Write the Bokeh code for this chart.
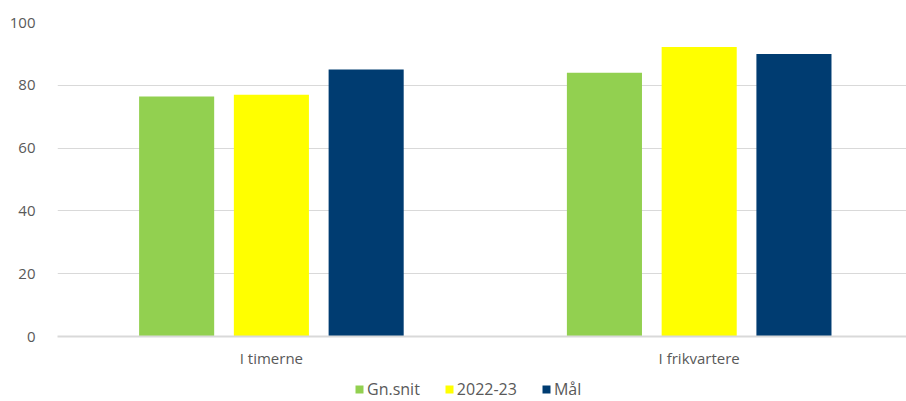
from bokeh.plotting import figure
from bokeh.layouts import column
from bokeh.models import Range1d, Legend, LegendItem, SingleIntervalTicker, FixedTicker, ColumnDataSource
from bokeh.transform import dodge
from bokeh.embed import file_html
from bokeh.resources import INLINE

categories = ["I timerne", "I frikvartere"]
series_names = ["Gn.snit", "2022-23", "Mål"]
gn_snit = [76.4, 84.0]
aar_2022_23 = [77.0, 92.2]
maal = [85.0, 90.0]
y_ticks_interval = 20

colors = ["#92D050", "#FFFF00", "#003C71"]
FONT = "Open Sans"
TXT = "#595959"

centers = [i + 0.5 for i in range(len(categories))]
src = ColumnDataSource(dict(x=centers, s0=gn_snit, s1=aar_2022_23, s2=maal))

p = figure(width=906, height=376, x_range=Range1d(0, 1.9846), y_range=Range1d(0, 100),
           output_backend="svg", toolbar_location=None,
           min_border_left=57, min_border_right=0, min_border_top=22, min_border_bottom=40)
p.outline_line_color = None
p.background_fill_color = "white"

offsets = [-0.2215, 0.0, 0.2215]
for i, (name, col) in enumerate(zip(series_names, colors)):
    p.vbar(x=dodge("x", offsets[i]), top=f"s{i}", width=0.1755,
           source=src, fill_color=col, line_color=None)

# axes
p.yaxis.ticker = SingleIntervalTicker(interval=y_ticks_interval)
p.yaxis.axis_line_color = None
p.yaxis.major_tick_line_color = None
p.yaxis.minor_tick_line_color = None
p.yaxis.major_label_standoff = 16
p.yaxis.major_label_text_font = FONT
p.yaxis.major_label_text_font_size = "15px"
p.yaxis.major_label_text_color = TXT

p.xaxis.ticker = FixedTicker(ticks=centers)
p.xaxis.major_label_overrides = {c: lab for c, lab in zip(centers, categories)}
p.xaxis.axis_line_color = "#D9D9D9"
p.xaxis.axis_line_width = 2
p.xaxis.major_tick_line_color = None
p.xaxis.minor_tick_line_color = None
p.xaxis.major_label_standoff = 5
p.xaxis.major_label_text_font = FONT
p.xaxis.major_label_text_font_size = "15px"
p.xaxis.major_label_text_color = TXT

p.xgrid.grid_line_color = None
p.ygrid.grid_line_color = "#D9D9D9"
p.ygrid.grid_line_width = 1

# legend strip below the chart (its frame is aligned with the chart's frame)
lg = figure(width=906, height=25, x_range=Range1d(0, 1), y_range=Range1d(0, 1),
            x_axis_location=None, y_axis_location=None,
            output_backend="svg", toolbar_location=None, min_border=0)
lg.grid.grid_line_color = None
lg.outline_line_color = None
hidden = ColumnDataSource(dict(x=[-5], top=[-5]))
rs = [lg.vbar(x="x", top="top", width=0.1, source=hidden, fill_color=c, line_color=None) for c in colors]
legend = Legend(items=[LegendItem(label=n, renderers=[r]) for n, r in zip(series_names, rs)],
                orientation="horizontal", location=(297, 1),
                glyph_width=10, glyph_height=10, label_standoff=3, spacing=24,
                padding=0, margin=0, border_line_color=None, background_fill_alpha=0,
                label_text_font=FONT, label_text_font_size="16px", label_text_color=TXT,
                label_height=17)
lg.add_layout(legend, "center")

layout = column(p, lg, spacing=0)
open("out.html", "w").write(file_html(layout, INLINE))
